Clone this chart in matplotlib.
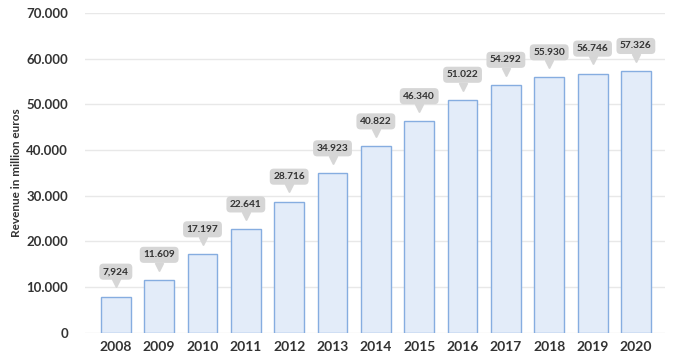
import matplotlib
matplotlib.use("Agg")
import matplotlib.pyplot as plt
import matplotlib.transforms as mtransforms
from matplotlib.ticker import FuncFormatter

years = ['2008', '2009', '2010', '2011', '2012', '2013', '2014',
         '2015', '2016', '2017', '2018', '2019', '2020']
revenue = [7924, 11609, 17197, 22641, 28716, 34923, 40822,
           46340, 51022, 54292, 55930, 56746, 57326]
value_labels = ['7,924', '11.609', '17.197', '22.641', '28.716', '34.923', '40.822',
                '46.340', '51.022', '54.292', '55.930', '56.746', '57.326']

plt.rcParams['font.family'] = ['Lato', 'DejaVu Sans']
plt.rcParams['font.weight'] = 'bold'

fig = plt.figure(figsize=(6.73, 3.63), dpi=100)
ax = fig.add_axes([0.126, 0.083, 0.862, 0.881])

x = list(range(len(years)))
ax.bar(x, revenue, width=0.69, color='#e3ecf9', edgecolor='#86ade0', linewidth=1.0, zorder=2)

# value bubbles
for i, (v, lab) in enumerate(zip(revenue, value_labels)):
    ax.annotate(lab, xy=(i, v), xytext=(0, 18), textcoords='offset points',
                ha='center', va='center', fontsize=7.3, fontweight='bold', color='#333333',
                bbox=dict(boxstyle='round,pad=0.35,rounding_size=0.4', fc='#d6d6d6', ec='none'),
                zorder=4)
    tr = mtransforms.offset_copy(ax.transData, fig=fig, x=0, y=9.5, units='points')
    ax.plot(i, v, marker='v', markersize=6, color='#d6d6d6', transform=tr, zorder=3, clip_on=False)

ax.set_xlim(-0.716, 12.67)
ax.set_ylim(0, 70000)
ax.set_yticks(range(0, 70001, 10000))
ax.yaxis.set_major_formatter(FuncFormatter(lambda v, p: f"{int(v):,}".replace(',', '.')))
ax.set_xticks(x)
ax.set_xticklabels(years)

ax.grid(axis='y', color='#e8e8e8', linewidth=1.0, zorder=0)
ax.set_axisbelow(True)
for s in ax.spines.values():
    s.set_visible(False)
ax.tick_params(axis='both', length=0, colors='#333333')
ax.tick_params(axis='y', labelsize=9.5, pad=12)
ax.tick_params(axis='x', labelsize=10, pad=6)
for t in ax.get_xticklabels() + ax.get_yticklabels():
    t.set_fontweight('bold')

ax.set_ylabel('Revenue in million euros', fontsize=8.5, fontweight='bold', color='#333333',
              va='center')
ax.yaxis.set_label_coords((17 - 85) / 580, 0.5)

fig.savefig('out.png', dpi=100)
